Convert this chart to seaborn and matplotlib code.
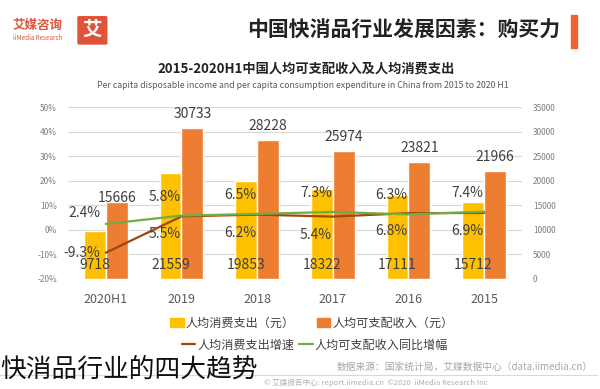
import pandas as pd
import matplotlib.pyplot as plt
import seaborn as sns
from matplotlib.patches import Rectangle, FancyBboxPatch, Patch
from matplotlib.lines import Line2D

# data (reference image is mirrored: 2020H1 on the left, 2015 on the right)
years = ['2020H1', '2019', '2018', '2017', '2016', '2015']
income = [15666, 30733, 28228, 25974, 23821, 21966]
expense = [9718, 21559, 19853, 18322, 17111, 15712]
income_growth = [2.4, 5.8, 6.5, 7.3, 6.3, 7.4]
expense_growth = [-9.3, 5.5, 6.2, 5.4, 6.8, 6.9]
pct_ticks = [-20, -10, 0, 10, 20, 30, 40, 50]
pct_tick_labels = ['-20%', '-10%', '0%', '10%', '20%', '30%', '40%', '50%']
amount_ticks = [0, 5000, 10000, 15000, 20000, 25000, 30000, 35000]

inc_name = '人均可支配收入（元）'
exp_name = '人均消费支出（元）'
inc_g_name = '人均可支配收入同比增幅'
exp_g_name = '人均消费支出增速'

YELLOW = '#FFC000'
ORANGE = '#ED7D31'
GREEN = '#70AD47'
BROWN = '#9E480E'

sns.set_style('white')
plt.rcParams['font.family'] = ['Noto Sans CJK SC', 'DejaVu Sans']
plt.rcParams['axes.unicode_minus'] = False

bars = pd.DataFrame({
    '年份': years * 2,
    '金额': expense + income,
    '指标': [exp_name] * len(years) + [inc_name] * len(years),
})
lines = pd.DataFrame({
    '年份': years * 2,
    '增速': expense_growth + income_growth,
    '指标': [exp_g_name] * len(years) + [inc_g_name] * len(years),
})

fig = plt.figure(figsize=(6, 3.89), dpi=100)
ax = fig.add_axes([0.1133, 0.2828, 0.7567, 0.442])

sns.barplot(data=bars, x='年份', y='金额', hue='指标', order=years,
            hue_order=[exp_name, inc_name],
            palette={exp_name: YELLOW, inc_name: ORANGE},
            width=0.58, saturation=1, errorbar=None, legend=False, ax=ax)

ax2 = ax.twinx()
sns.pointplot(data=lines, x='年份', y='增速', hue='指标', order=years,
              hue_order=[exp_g_name, inc_g_name],
              palette={exp_g_name: BROWN, inc_g_name: GREEN},
              markers='', linestyles='-', linewidth=1.6,
              errorbar=None, legend=False, ax=ax2)

# amount axis on the right, percent axis on the left
ax.yaxis.tick_right()
ax2.yaxis.tick_left()
ax.set_ylim(0, 35000)
ax.set_yticks(amount_ticks)
ax2.set_ylim(-20, 50)
ax2.set_yticks(pct_ticks)
ax2.set_yticklabels(pct_tick_labels)
ax.set_xlim(-0.5, len(years) - 0.5)
ax.set_xticks(range(len(years)))
ax.set_xticklabels(years)

ax.grid(axis='y', color='#D9D9D9', linewidth=0.8)
ax.set_axisbelow(True)
for a in (ax, ax2):
    for s in a.spines.values():
        s.set_visible(False)
    a.set_xlabel('')
    a.set_ylabel('')
ax.tick_params(axis='x', length=0, pad=10, labelsize=9, labelcolor='#595959')
ax.tick_params(axis='y', length=0, pad=8, labelsize=6, labelcolor='#7F7F7F')
ax2.tick_params(axis='y', length=0, pad=8, labelsize=6, labelcolor='#7F7F7F')

# value labels
exp_bars, inc_bars = ax.containers[0], ax.containers[1]
for i, (p, v) in enumerate(zip(inc_bars, income)):
    ax.annotate(str(v), (p.get_x() + p.get_width() / 2, p.get_height()),
                xytext=(0, 4 if i == 0 else 14), textcoords='offset pixels',
                ha='center', va='center', fontsize=10, color='#404040')
for p, v in zip(exp_bars, expense):
    ax.annotate(str(v), (p.get_x() + p.get_width() / 2, 0),
                xytext=(0, 14), textcoords='offset pixels',
                ha='center', va='center', fontsize=10, color='#404040')

for i, (gi, ge) in enumerate(zip(income_growth, expense_growth)):
    off_i = (-21, 11) if i == 0 else (-17, 19)
    off_e = (-24, 0) if i == 0 else (-17, -18)
    ax2.annotate(f'{gi}%', (i, gi), xytext=off_i, textcoords='offset pixels',
                 ha='center', va='center', fontsize=10, color='#404040')
    ax2.annotate(f'{ge}%', (i, ge), xytext=off_e, textcoords='offset pixels',
                 ha='center', va='center', fontsize=10, color='#404040')

# header
fig.text(0.933, 0.923, '中国快消品行业发展因素：购买力', ha='right', va='center',
         fontsize=15, fontweight='bold', color='#222222')
fig.patches.append(Rectangle((0.952, 0.877), 0.01, 0.084, transform=fig.transFigure,
                             color='#F0642F', figure=fig))
fig.patches.append(FancyBboxPatch((0.132, 0.889), 0.044, 0.066,
                                  boxstyle='round,pad=0.002', transform=fig.transFigure,
                                  color='#E0533B', figure=fig))
fig.text(0.154, 0.922, '艾', ha='center', va='center', fontsize=14,
         fontweight='bold', color='white')
fig.text(0.063, 0.935, '艾媒咨询', ha='center', va='center', fontsize=9,
         fontweight='bold', color='#E0533B')
fig.text(0.063, 0.902, 'iiMedia Research', ha='center', va='center', fontsize=4.5,
         color='#E0533B')

fig.text(0.51, 0.825, '2015-2020H1中国人均可支配收入及人均消费支出', ha='center',
         va='center', fontsize=9.5, fontweight='bold', color='#222222')
fig.text(0.505, 0.781,
         'Per capita disposable income and per capita consumption expenditure in China from 2015 to 2020 H1',
         ha='center', va='center', fontsize=6.3, color='#595959')

# legend
h1 = [Patch(color=YELLOW, label=exp_name), Patch(color=ORANGE, label=inc_name)]
h2 = [Line2D([], [], color=BROWN, lw=1.6, label=exp_g_name),
      Line2D([], [], color=GREEN, lw=1.6, label=inc_g_name)]
fig.legend(handles=h1, loc='center', bbox_to_anchor=(0.52, 0.170), ncol=2,
           frameon=False, fontsize=8.7, handlelength=1.1, handleheight=0.8,
           handletextpad=0.2, columnspacing=1.8, labelcolor='#404040')
fig.legend(handles=h2, loc='center', bbox_to_anchor=(0.525, 0.113), ncol=2,
           frameon=False, fontsize=8.7, handlelength=1.1,
           handletextpad=0.2, columnspacing=0.4, labelcolor='#404040')

# footer
fig.text(0.988, 0.057, '数据来源：国家统计局，艾媒数据中心（data.iimedia.cn）',
         ha='right', va='center', fontsize=7, color='#A6A6A6')
fig.add_artist(Line2D([0.0, 0.995], [0.036, 0.036], transform=fig.transFigure,
                      color='#D9D9D9', lw=0.8))
fig.text(0.44, 0.016, '© 艾媒报告中心: report.iimedia.cn  ©2020  iiMedia Research Inc',
         ha='left', va='center', fontsize=5.5, color='#B0B0B0')
fig.text(0.0, 0.049, '快消品行业的四大趋势', ha='left', va='center', fontsize=18.5,
         fontweight='light', color='#111111')

fig.savefig('out.png', dpi=100)
